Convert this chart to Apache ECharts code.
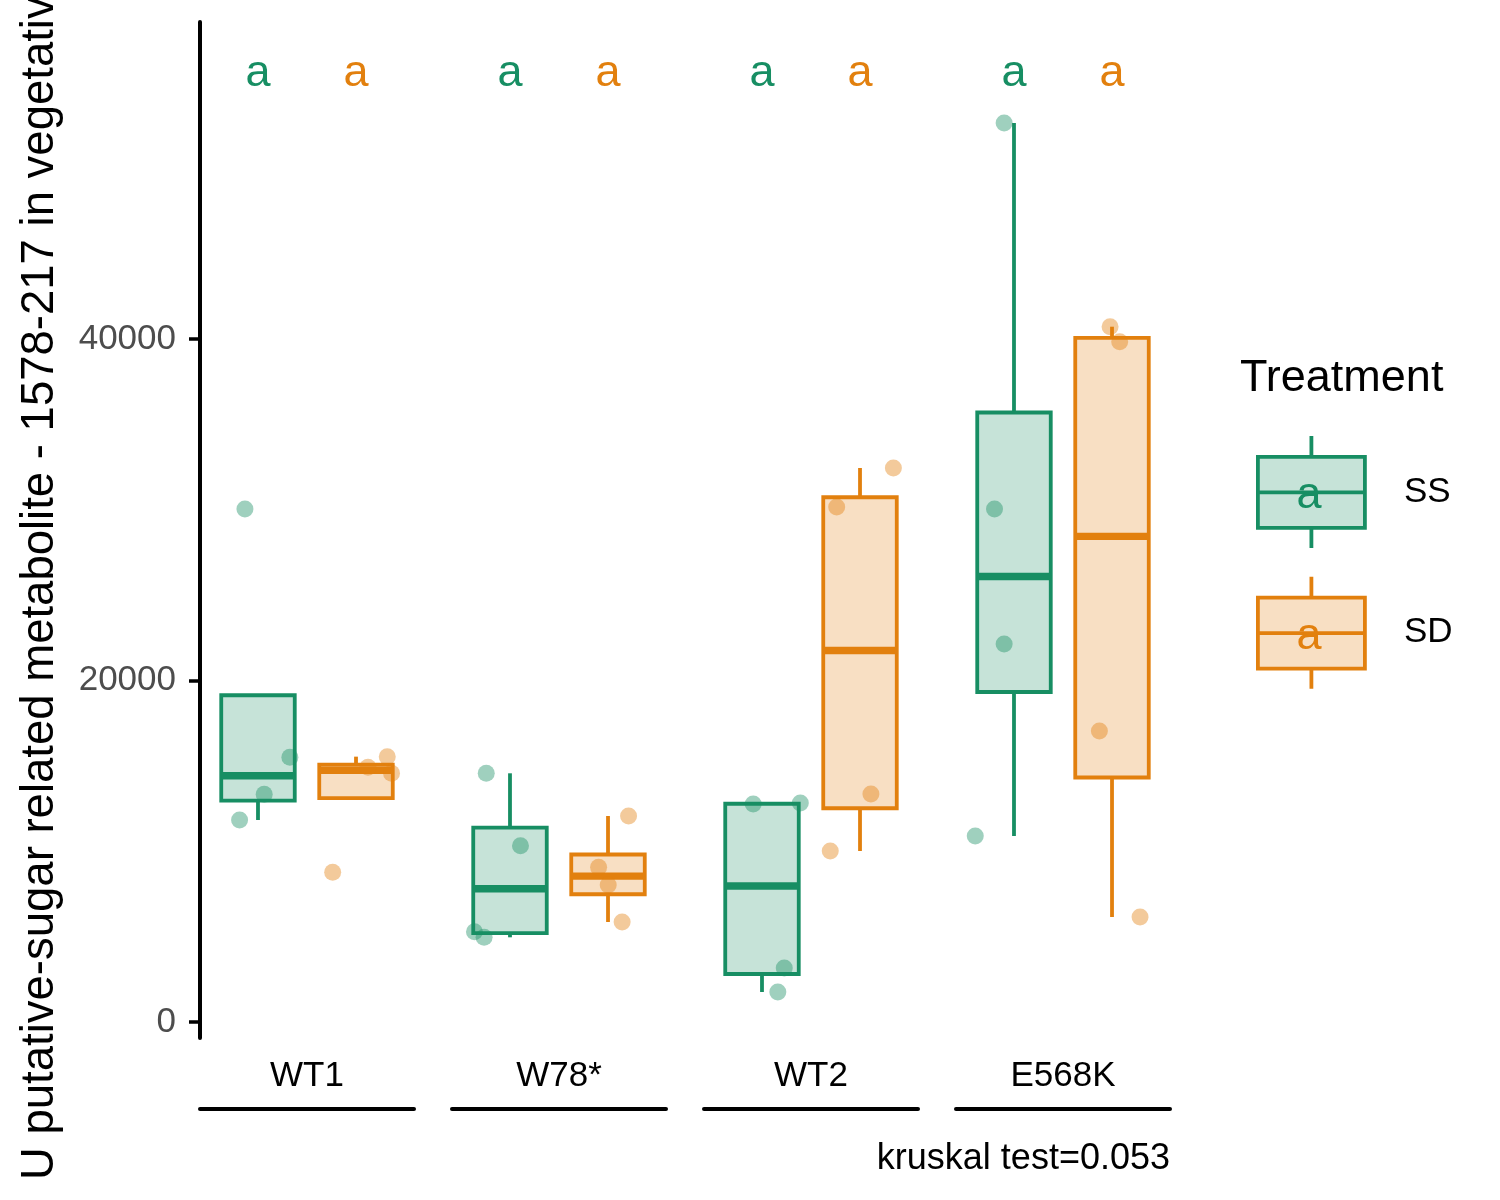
<!DOCTYPE html>
<html>
<head>
<meta charset="utf-8">
<script src="https://cdn.jsdelivr.net/npm/echarts@6/dist/echarts.min.js"></script>
<style>
html,body{margin:0;padding:0;background:#ffffff;}
#chart{width:1500px;height:1200px;}
</style>
</head>
<body>
<div id="chart"></div>
<script>
// ---------------- data ----------------
const groups = ['WT1', 'W78*', 'WT2', 'E568K'];
const treatments = ['SS', 'SD'];

// box stats per group: [lower whisker, Q1, median, Q3, upper whisker]
const boxSS = [
  [11830, 12960, 14420, 19135, 15500],
  [4960, 5206, 7806, 11385, 14565],
  [1757, 2812, 7965, 12782, 12826],
  [10893, 19327, 26091, 35696, 52650]
];
const boxSD = [
  [14565, 13116, 14742, 15075, 15540],
  [5857, 7481, 8541, 9811, 12064],
  [10015, 12519, 21757, 30732, 32445],
  [6149, 14319, 28442, 40062, 40720]
];

// raw (jittered) observations per group
const valuesSS = [
  [11830, 13335, 15500, 30040],
  [14565, 10325, 5288, 4960],
  [12767, 12826, 3163, 1757],
  [52650, 30044, 22138, 10893]
];
const jitterXSS = [
  [-0.63, -0.40, -0.16, -0.58],
  [-0.68, -0.36, -0.79, -0.70],
  [-0.54, -0.10, -0.25, -0.31],
  [-0.55, -0.64, -0.55, -0.82]
];
const valuesSD = [
  [14917, 15537, 14565, 8767],
  [12064, 9060, 8023, 5857],
  [32445, 30161, 13353, 10015],
  [40720, 39842, 17042, 6149]
];
const jitterXSD = [
  [0.57, 0.75, 0.79, 0.24],
  [0.65, 0.37, 0.46, 0.59],
  [0.77, 0.24, 0.56, 0.18],
  [0.44, 0.53, 0.34, 0.72]
];

// significance letters
const lettersSS = ['a', 'a', 'a', 'a'];
const lettersSD = ['a', 'a', 'a', 'a'];
const letterY = 55520;

const yTicks = [0, 20000, 40000];
const yTitle = 'U putative-sugar related metabolite - 1578-217 in vegetative tissue';
const legendTitle = 'Treatment';
const kruskalText = 'kruskal test=0.053';

// ---------------- styling / layout ----------------
const FONT = '"Liberation Sans", Arial, Helvetica, sans-serif';
const GREEN = '#178E63', ORANGE = '#E2800E';
const GREEN_FILL = '#C6E3D8', ORANGE_FILL = '#F8DFC3';
const GREEN_PT = 'rgba(23,142,99,0.52)', ORANGE_PT = 'rgba(226,128,14,0.52)';
const Y_MIN = -937, Y_MAX = 58565;
const DODGE = 0.458;      // box centre offset (panel units)
const BOX_W = 0.687;      // box width (panel units)
const PANEL_LEFT = 200, PANEL_STEP = 252, PANEL_W = 214, PANEL_TOP = 22, PANEL_H = 1016;

const style = {
  SS: {stroke: GREEN, fill: GREEN_FILL, pt: GREEN_PT, x: -DODGE, box: boxSS, vals: valuesSS, jit: jitterXSS, letters: lettersSS},
  SD: {stroke: ORANGE, fill: ORANGE_FILL, pt: ORANGE_PT, x: DODGE, box: boxSD, vals: valuesSD, jit: jitterXSD, letters: lettersSD}
};

function makeRender(t) {
  const s = style[t];
  return function (params, api) {
    const x = api.value(0);
    const lo = api.coord([x, api.value(1)]);
    const q1 = api.coord([x, api.value(2)]);
    const md = api.coord([x, api.value(3)]);
    const q3 = api.coord([x, api.value(4)]);
    const hi = api.coord([x, api.value(5)]);
    const w = api.size([BOX_W, 0])[0];
    const cx = md[0];
    return {
      type: 'group',
      children: [
        {type: 'line', shape: {x1: cx, y1: hi[1], x2: cx, y2: q3[1]}, style: {stroke: s.stroke, lineWidth: 3.8}},
        {type: 'line', shape: {x1: cx, y1: q1[1], x2: cx, y2: lo[1]}, style: {stroke: s.stroke, lineWidth: 3.8}},
        {type: 'rect', shape: {x: cx - w / 2, y: q3[1], width: w, height: q1[1] - q3[1]},
          style: {fill: s.fill, stroke: s.stroke, lineWidth: 3.8}},
        {type: 'line', shape: {x1: cx - w / 2, y1: md[1], x2: cx + w / 2, y2: md[1]},
          style: {stroke: s.stroke, lineWidth: 7.4}}
      ]
    };
  };
}

function makeLetterRender(t) {
  const s = style[t];
  return function (params, api) {
    const p = api.coord([api.value(0), api.value(1)]);
    return {
      type: 'text', x: p[0], y: p[1],
      style: {text: s.letters[api.value(2)], fontSize: 45, fill: s.stroke,
        fontFamily: FONT, align: 'center', verticalAlign: 'middle'}
    };
  };
}

const grids = [], xAxes = [], yAxes = [], series = [];
groups.forEach(function (g, k) {
  grids.push({left: PANEL_LEFT + PANEL_STEP * k, top: PANEL_TOP, width: PANEL_W, height: PANEL_H,
    containLabel: false, outerBoundsMode: 'none'});
  // data axis (hidden)
  xAxes.push({gridIndex: k, type: 'value', min: -1, max: 1, show: false});
  // label axis
  xAxes.push({gridIndex: k, type: 'category', data: [g], position: 'bottom',
    axisLine: {show: false}, axisTick: {show: false}, splitLine: {show: false},
    axisLabel: {show: true, fontSize: 35, color: '#000', fontFamily: FONT, margin: 21}});
  // strip line below the labels
  xAxes.push({gridIndex: k, type: 'category', data: [''], position: 'bottom', offset: 71,
    axisLine: {show: true, lineStyle: {color: '#000', width: 4}},
    axisTick: {show: false}, axisLabel: {show: false}, splitLine: {show: false}});

  yAxes.push({gridIndex: k, type: 'value', min: Y_MIN, max: Y_MAX, show: k === 0,
    splitLine: {show: false},
    axisLine: {show: true, onZero: false, lineStyle: {color: '#000', width: 4}},
    axisTick: {show: true, length: 11, lineStyle: {color: '#000', width: 3.5}, customValues: yTicks},
    axisLabel: {show: true, customValues: yTicks, fontSize: 35, color: '#4D4D4D', fontFamily: FONT, margin: 24,
      formatter: function (v) { return String(v); }}});

  treatments.forEach(function (t) {
    const s = style[t];
    const b = s.box[k];
    series.push({
      name: t, type: 'custom', xAxisIndex: 3 * k, yAxisIndex: k, z: 2,
      renderItem: makeRender(t),
      encode: {x: 0, y: [1, 2, 3, 4, 5]},
      itemStyle: {color: s.fill, borderColor: s.stroke},
      data: [[s.x, b[0], b[1], b[2], b[3], b[4]]],
      silent: true
    });
    series.push({
      name: t, type: 'scatter', xAxisIndex: 3 * k, yAxisIndex: k, z: 3,
      symbol: 'circle', symbolSize: 17,
      itemStyle: {color: s.pt, borderWidth: 0},
      data: s.vals[k].map(function (v, i) { return [s.jit[k][i], v]; }),
      silent: true
    });
    series.push({
      name: t + ' letters', type: 'custom', xAxisIndex: 3 * k, yAxisIndex: k, z: 4,
      renderItem: makeLetterRender(t),
      encode: {x: 0, y: 1},
      data: [[s.x, letterY, k]],
      silent: true
    });
  });
});

function keyPath() {
  return 'path://M53.5,0 V21 M0,21 H107 V92 H0 Z M0,56.5 H107 M53.5,92 V112';
}

const option = {
  animation: false,
  backgroundColor: '#ffffff',
  textStyle: {fontFamily: FONT},
  grid: grids,
  xAxis: xAxes,
  yAxis: yAxes,
  series: series,
  title: [
    {text: kruskalText, right: 330, top: 1141, padding: 0,
      textStyle: {fontSize: 36, fontWeight: 'normal', color: '#000', fontFamily: FONT}},
    {text: legendTitle, left: 1240, top: 356, padding: 0,
      textStyle: {fontSize: 45, fontWeight: 'normal', color: '#000', fontFamily: FONT}}
  ],
  legend: {
    orient: 'vertical', left: 1256, top: 434, padding: 0,
    itemWidth: 107, itemHeight: 112, itemGap: 25, selectedMode: false,
    textStyle: {fontSize: 35, color: '#000', fontFamily: FONT, padding: [8, 0, 0, 34]},
    data: treatments.map(function (t) {
      return {name: t, icon: keyPath(),
        itemStyle: {color: style[t].fill, borderColor: style[t].stroke, borderWidth: 3.8}};
    })
  },
  graphic: [
    {type: 'text', x: 40, y: 1180, rotation: Math.PI / 2, silent: true, z: 100,
      style: {text: yTitle, fontSize: 45.5, fill: '#000', fontFamily: FONT, align: 'left', verticalAlign: 'middle'}},
    {type: 'text', x: 1309, y: 496, silent: true, z: 100,
      style: {text: lettersSS[0], fontSize: 45, fill: GREEN, fontFamily: FONT, align: 'center', verticalAlign: 'middle'}},
    {type: 'text', x: 1309, y: 637, silent: true, z: 100,
      style: {text: lettersSD[0], fontSize: 45, fill: ORANGE, fontFamily: FONT, align: 'center', verticalAlign: 'middle'}}
  ]
};

const chart = echarts.init(document.getElementById('chart'), null, {renderer: 'canvas'});
chart.setOption(option);
</script>
</body>
</html>
